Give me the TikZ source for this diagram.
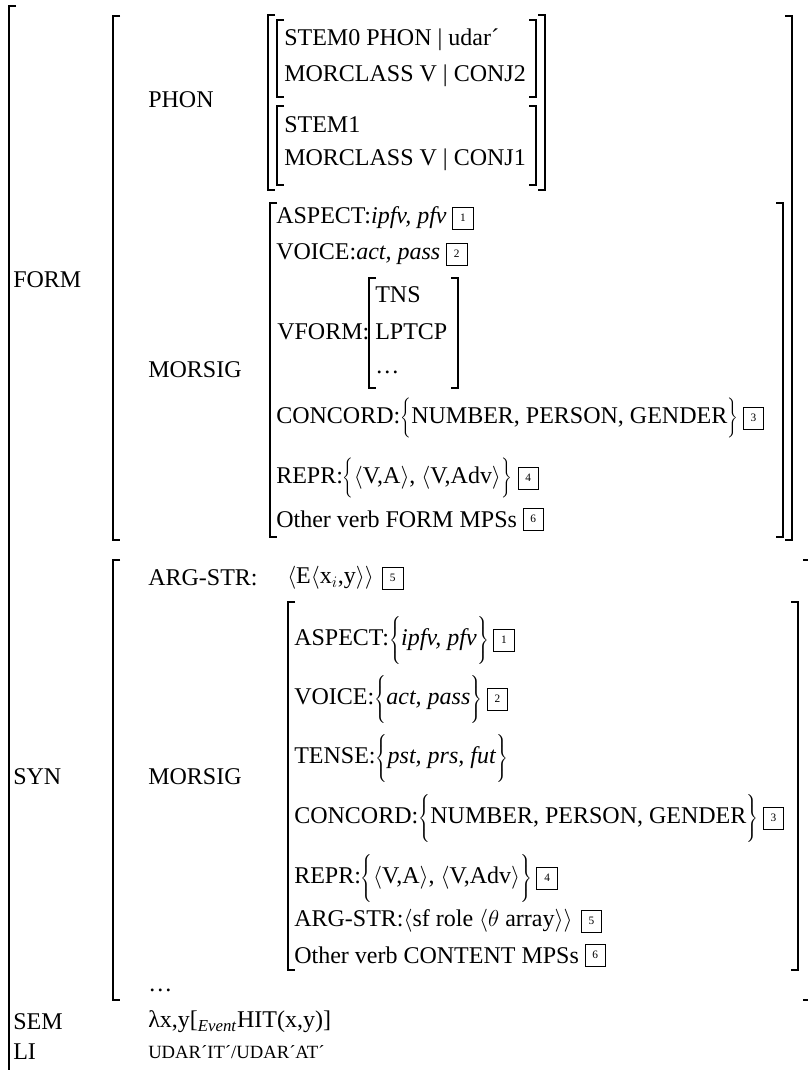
\documentclass[tikz,border=0pt]{standalone}
\usepackage{fontspec}
\setmainfont{Liberation Serif}
\usepackage{tikz}
\usetikzlibrary{positioning}
\tikzset{
    attr/.style = {anchor=west, inner sep=0pt, font=\fontsize{18}{22}\selectfont},
    val_node/.style = {attr},
    tag_box/.style = {draw=black, line width=0.6pt, inner sep=0pt, minimum width=15.5pt, minimum height=16.5pt, font=\fontsize{8.5}{8.5}\selectfont},
    brk/.style = {draw=black, line width=1.3pt}
}
% set braces of a given height
\newcommand{\bset}[2]{$\left\{\vcenter{\hbox{\vrule height #1 width 0pt}}\right.$\kern-1pt#2\kern-1pt$\left.\vcenter{\hbox{\vrule height #1 width 0pt}}\right\}$}
% AVM brackets: x, top, bottom
\newcommand{\avmL}[3]{\draw[brk] (#1+7,#2) -- (#1,#2) -- (#1,#3) -- (#1+7,#3);}
\newcommand{\avmR}[3]{\draw[brk] (#1-7,#2) -- (#1,#2) -- (#1,#3) -- (#1-7,#3);}

\begin{document}
\begin{tikzpicture}[x=0.75pt, y=-0.75pt]
    \useasboundingbox (0,0) rectangle (807,1070);
    % outer brackets
    \draw[brk] (16,6) -- (9,6) -- (9,1080);
    \avmL{113}{16}{540}
    \avmR{792}{16}{540}
    \avmL{113}{560}{1000}
    \avmR{810}{560}{1000}
    % feature names
    \node[attr] (form) at (13,280) {FORM};
    \node[attr] (syn) at (13,777) {SYN};
    \node[attr] (sem) at (13,1022) {SEM};
    \node[attr] (li) at (13,1052) {LI};
    \node[attr] (phon) at (148,100) {PHON};
    \node[attr] (fmorsig) at (148,370) {MORSIG};
    \node[attr] (argstr) at (148,578) {ARG-STR:};
    \node[attr] (smorsig) at (148,777) {MORSIG};
    \node[attr] (sdots) at (148,990) {\dots};
    % PHON
    \avmL{268}{15}{190}
    \avmR{545}{15}{190}
    \avmL{277}{20}{97}
    \avmR{536}{20}{97}
    \avmL{277}{106}{185}
    \avmR{536}{106}{185}
    \node[val_node] (stem0) at (284,40) {STEM0 PHON | udar´};
    \node[val_node] (mcl2) at (284,76) {MORCLASS V | CONJ2};
    \node[val_node] (stem1) at (284,125) {STEM1};
    \node[val_node] (mcl1) at (284,160) {MORCLASS V | CONJ1};
    % FORM MORSIG
    \avmL{270}{203}{537}
    \avmR{783}{203}{537}
    \node[val_node] (fasp) at (276,218) {ASPECT:\textit{ipfv, pfv}};
    \node[tag_box, right=4pt of fasp] (fasp_t) {1};
    \node[val_node] (fvoi) at (276,254) {VOICE:\textit{act, pass}};
    \node[tag_box, right=4pt of fvoi] (fvoi_t) {2};
    \node[val_node] (fvf) at (277,332) {VFORM:};
    \avmL{369}{278}{388}
    \avmR{458}{278}{388}
    \node[val_node] (tns) at (375,295) {TNS};
    \node[val_node] (lptcp) at (375,332) {LPTCP};
    \node[val_node] (vfdots) at (375,372) {\dots};
    \node[val_node] (fcon) at (276,418) {CONCORD:\bset{30pt}{NUMBER, PERSON, GENDER}};
    \node[tag_box, right=3pt of fcon] (fcon_t) {3};
    \node[val_node] (frep) at (276,478) {REPR:\bset{30pt}{$\langle$V,A$\rangle$, $\langle$V,Adv$\rangle$}};
    \node[tag_box, right=4pt of frep] (frep_t) {4};
    \node[val_node] (foth) at (276,519) {Other verb FORM MPSs};
    \node[tag_box, right=4pt of foth] (foth_t) {6};
    % SYN
    \node[val_node] (argv) at (287,578) {$\langle$E$\langle$x$_i$,y$\rangle\rangle$};
    \node[tag_box, right=6pt of argv] (argv_t) {5};
    \avmL{288}{602}{970}
    \avmR{798}{602}{970}
    \node[val_node] (sasp) at (294,640) {ASPECT:\bset{38pt}{\textit{ipfv, pfv}}};
    \node[tag_box, right=3pt of sasp] (sasp_t) {1};
    \node[val_node] (svoi) at (294,699) {VOICE:\bset{38pt}{\textit{act, pass}}};
    \node[tag_box, right=3pt of svoi] (svoi_t) {2};
    \node[val_node] (sten) at (294,758) {TENSE:\bset{38pt}{\textit{pst, prs, fut}}};
    \node[val_node] (scon) at (294,818) {CONCORD:\bset{38pt}{NUMBER, PERSON, GENDER}};
    \node[tag_box, right=3pt of scon] (scon_t) {3};
    \node[val_node] (srep) at (294,878) {REPR:\bset{38pt}{$\langle$V,A$\rangle$, $\langle$V,Adv$\rangle$}};
    \node[tag_box, right=3pt of srep] (srep_t) {4};
    \node[val_node] (sarg) at (294,921) {ARG-STR:$\langle$sf role $\langle\theta$ array$\rangle\rangle$};
    \node[tag_box, right=6pt of sarg] (sarg_t) {5};
    \node[val_node] (soth) at (294,955) {Other verb CONTENT MPSs};
    \node[tag_box, right=4pt of soth] (soth_t) {6};
    % SEM and LI
    \node[val_node] (semv) at (148,1022) {λx,y[\textsubscript{\textit{Event}}HIT(x,y)]};
    \node[val_node] (liv) at (148,1052) {\fontsize{14}{14}\selectfont UDAR´IT´/UDAR´AT´};
\end{tikzpicture}
\end{document}
